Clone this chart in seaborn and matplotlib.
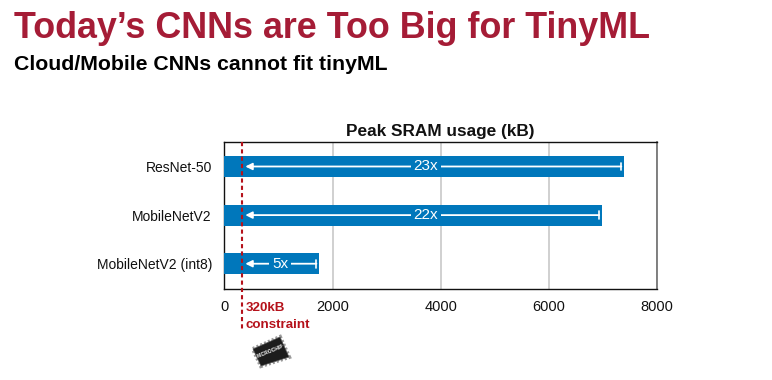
import pandas as pd
import matplotlib.pyplot as plt
import matplotlib.patches as mpatches
import seaborn as sns

# Data
models = ["ResNet-50", "MobileNetV2", "MobileNetV2 (int8)"]
peak_sram = [7390, 6980, 1750]
ratio_labels = ["23x", "22x", "5x"]
ratio_x = [3720, 3720, 1030]
constraint = 320
x_ticks = [0, 2000, 4000, 6000, 8000]

W, H = 772, 380
bar_color = "#0077bb"
red = "#b5121b"

sns.set_theme(style="white")
plt.rcParams["font.family"] = ["Liberation Sans", "DejaVu Sans"]

df = pd.DataFrame({"model": models, "sram": peak_sram})

fig = plt.figure(figsize=(W / 100, H / 100), dpi=100)
ax = fig.add_axes([224.5 / W, 1 - 288.5 / H, 432.5 / W, 146.8 / H])

sns.barplot(data=df, x="sram", y="model", color=bar_color, saturation=1, width=0.43, linewidth=0, ax=ax, zorder=3)
ax.set_xlim(0, 8000)
ax.set_ylim(2.51, -0.51)
ax.set_xticks(x_ticks)
ax.set_xlabel("")
ax.set_ylabel("")
ax.tick_params(axis="x", labelsize=10.5, pad=8, length=0, colors="#111111")
ax.tick_params(axis="y", labelsize=10, pad=9, length=0, colors="#111111")
ax.xaxis.grid(True, color="#c8c8c8", lw=1.2, zorder=0)
ax.yaxis.grid(False)
ax.set_axisbelow(True)
for name, s in ax.spines.items():
    s.set_visible(True)
    s.set_color("#111111")
    s.set_linewidth(1.0)
ax.spines["right"].set_color("#777777")
ax.spines["right"].set_linewidth(1.3)
ax.set_title("Peak SRAM usage (kB)", fontsize=12.4, fontweight="bold", color="#111111", pad=4)

# white arrows inside the bars
for i, (val, lab, xt) in enumerate(zip(peak_sram, ratio_labels, ratio_x)):
    ax.annotate("", xy=(385, i), xytext=(val - 50, i), zorder=5,
                arrowprops=dict(arrowstyle="-|>", color="white", lw=1.3, mutation_scale=10, shrinkA=0, shrinkB=0))
    ax.plot([val - 50, val - 50], [i - 0.08, i + 0.08], color="white", lw=1.2, zorder=5)
    ax.text(xt, i, lab, color="white", fontsize=11, ha="center", va="center", zorder=6,
            bbox=dict(facecolor=bar_color, edgecolor="none", pad=2))

# constraint line runs below the axes
ax.plot([constraint, constraint], [-0.51, 3.38], color=red, lw=1.5, ls=(0, (2, 1.5)), zorder=7, clip_on=False)
ax.text(395, 2.91, "320kB", color=red, fontsize=9.6, fontweight="bold", ha="left", va="center")
ax.text(395, 3.26, "constraint", color=red, fontsize=9.6, fontweight="bold", ha="left", va="center")

# heading
fig.text(14 / W, 1 - 29 / H, "Today\u2019s CNNs are Too Big for TinyML", fontsize=25.8, fontweight="bold",
         color="#a51c36", ha="left", va="center")
fig.text(14 / W, 1 - 64 / H, "Cloud/Mobile CNNs cannot fit tinyML", fontsize=15.35, fontweight="bold",
         color="black", ha="left", va="center")

# chip icon
corners = [(253, 349), (280, 337), (289, 357), (261, 366)]
chip_xy = [(x / W, 1 - y / H) for x, y in corners]
pins = mpatches.Polygon(chip_xy, closed=True, transform=fig.transFigure, facecolor="none",
                        edgecolor="#9a9a9a", lw=3, ls=(0, (0.5, 0.5)))
body = mpatches.Polygon(chip_xy, closed=True, transform=fig.transFigure, facecolor="#1c1c1c",
                        edgecolor="#555555", lw=0.5)
fig.add_artist(pins)
fig.add_artist(body)
fig.text(270 / W, 1 - 351 / H, "MICROCHIP", color="white", fontsize=3.5, fontweight="bold",
         rotation=22, ha="center", va="center")

plt.savefig("out.png", dpi=100)
